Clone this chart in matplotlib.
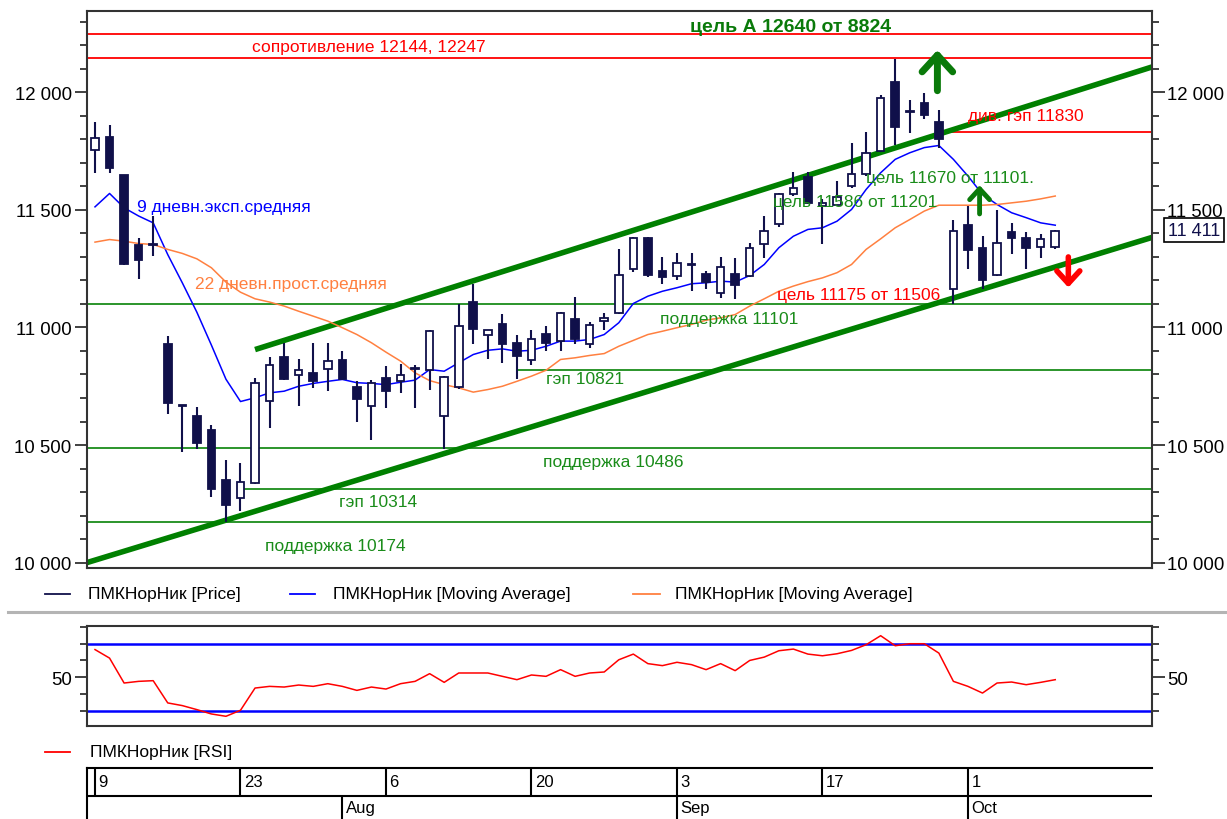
import matplotlib
matplotlib.use("Agg")
import matplotlib.pyplot as plt
from matplotlib.lines import Line2D
from matplotlib.ticker import MultipleLocator, FuncFormatter, FixedLocator

plt.rcParams['font.family'] = ['Liberation Sans', 'DejaVu Sans']

# --- data, one entry per trading day, 9 Jul .. 9 Oct 2012
opens = [11754, 11810, 11647, 11350, 11350, 10931, 10665, 10623, 10563, 10350,
         10274, 10339, 10686, 10874, 10796, 10805, 10825, 10860, 10748, 10665,
         10786, 10774, 10828, 10821, 10623, 10746, 11108, 10966, 11013, 10932,
         10861, 10974, 10942, 11034, 10928, 11027, 11062, 11247, 11382, 11242,
         11218, 11270, 11228, 11148, 11228, 11218, 11356, 11442, 11566, 11641,
         11516, 11523, 11601, 11651, 11750, 12044, 11922, 11956, 11873, 11165,
         11434, 11339, 11225, 11405, 11382, 11343, 11343]
highs = [11873, 11861, 11650, 11382, 11476, 10963, 10668, 10662, 10587, 10438,
         10424, 10786, 10875, 10932, 10867, 10932, 10932, 10902, 10771, 10776,
         10835, 10845, 10842, 10991, 10795, 11098, 11187, 10990, 11058, 10970,
         10991, 11005, 11065, 11131, 11022, 11062, 11332, 11385, 11385, 11301,
         11315, 11315, 11239, 11301, 11297, 11360, 11476, 11570, 11661, 11661,
         11545, 11622, 11786, 11831, 11990, 12143, 11967, 11996, 11927, 11455,
         11516, 11388, 11499, 11445, 11405, 11396, 11414]
lows = [11658, 11658, 11265, 11207, 11303, 10633, 10471, 10481, 10278, 10171,
        10221, 10335, 10573, 10778, 10668, 10743, 10729, 10775, 10597, 10523,
        10658, 10722, 10658, 10736, 10481, 10740, 10928, 10864, 10847, 10781,
        10840, 10899, 10899, 10928, 10914, 10988, 11058, 11235, 11214, 11183,
        11204, 11154, 11162, 11126, 11119, 11215, 11297, 11428, 11560, 11525,
        11357, 11520, 11595, 11645, 11745, 11774, 11825, 11885, 11765, 11098,
        11250, 11165, 11220, 11311, 11250, 11297, 11332]
closes = [11807, 11679, 11271, 11289, 11355, 10677, 10665, 10509, 10315, 10243,
          10342, 10762, 10842, 10782, 10821, 10771, 10857, 10779, 10694, 10765,
          10729, 10797, 10822, 10984, 10790, 11005, 10994, 10988, 10928, 10878,
          10952, 10935, 11062, 10949, 11010, 11041, 11225, 11382, 11225, 11216,
          11275, 11266, 11194, 11257, 11179, 11336, 11410, 11566, 11594, 11530,
          11528, 11556, 11654, 11743, 11977, 11854, 11918, 11902, 11800, 11410,
          11328, 11200, 11360, 11379, 11339, 11377, 11411]

ema9 = [11513, 11570, 11509, 11474, 11445, 11310, 11190, 11065, 10925, 10780,
        10685, 10701, 10722, 10729, 10750, 10762, 10771, 10779, 10765, 10762,
        10757, 10767, 10776, 10821, 10814, 10850, 10885, 10903, 10909, 10899,
        10903, 10920, 10942, 10942, 10949, 10970, 11020, 11102, 11133, 11154,
        11169, 11186, 11190, 11197, 11193, 11221, 11268, 11339, 11388, 11417,
        11424, 11452, 11502, 11587, 11658, 11715, 11743, 11765, 11774, 11715,
        11644, 11566, 11523, 11488, 11467, 11445, 11435]
sma22 = [11363, 11374, 11367, 11357, 11353, 11332, 11315, 11292, 11254, 11193,
         11150, 11122, 11108, 11091, 11069, 11048, 11027, 10999, 10970, 10935,
         10895, 10857, 10807, 10774, 10757, 10743, 10725, 10736, 10750, 10771,
         10793, 10818, 10864, 10871, 10881, 10889, 10920, 10945, 10970, 10984,
         10999, 11013, 11031, 11041, 11055, 11091, 11122, 11154, 11176, 11195,
         11211, 11233, 11268, 11332, 11377, 11424, 11459, 11495, 11520, 11520,
         11520, 11520, 11523, 11530, 11537, 11547, 11559]
rsi = [66.5, 61.4, 46.5, 47.5, 47.9, 34.6, 33.0, 30.6, 28.0, 26.6,
       30.2, 43.5, 44.5, 44.1, 45.3, 44.5, 46.1, 44.5, 42.1, 44.1,
       42.9, 46.1, 47.5, 52.1, 46.9, 52.5, 52.5, 52.5, 50.5, 48.5,
       51.3, 50.5, 54.5, 50.5, 52.5, 53.1, 60.4, 63.8, 58.1, 56.9,
       58.9, 57.5, 54.5, 58.1, 53.9, 60.0, 62.0, 65.8, 66.8, 63.8,
       62.8, 64.0, 66.0, 69.4, 74.8, 68.8, 70.0, 70.0, 64.4, 47.5,
       44.5, 40.5, 46.5, 47.1, 45.5, 46.9, 48.5]

day_ticks = [0, 10, 20, 30, 40, 50, 60]
day_labels = ['9', '23', '6', '20', '3', '17', '1']
month_ticks = [17, 40, 60]
month_labels = ['Aug', 'Sep', 'Oct']

support = [11101, 10486, 10174]
gaps = [(10821, 29), (10314, 10)]
resistance = [12144, 12247]
div_gap = (11830, 58)

NAVY = '#10104a'
GREEN = '#1a8c1a'
DKGREEN = '#0a7a0a'
RED = '#ff0000'
ORANGE = '#ff8040'

W, H = 1227, 820
fig = plt.figure(figsize=(W / 100, H / 100), dpi=100)
XL = (-0.55, 72.65)


def box(l, t, r, b):
    return [l / W, 1 - b / H, (r - l) / W, (b - t) / H]


def style_axis(ax):
    for s in ax.spines.values():
        s.set_color('#333333')
        s.set_linewidth(1.5)
    ax.tick_params(which='both', direction='out', left=True, right=True,
                   labelleft=True, labelright=True, bottom=False, labelbottom=False,
                   color='#333333', width=1.3, labelsize=13.4, pad=2)
    ax.tick_params(which='major', length=9)
    ax.tick_params(which='minor', length=5)
    ax.set_xlim(*XL)


# ---------------- price panel
ax = fig.add_axes(box(87, 12, 1152, 569))
style_axis(ax)
ax.set_ylim(9977, 12346)
ax.yaxis.set_major_locator(MultipleLocator(500))
ax.yaxis.set_minor_locator(MultipleLocator(100))
ax.yaxis.set_major_formatter(FuncFormatter(lambda v, p: '{:,.0f}'.format(v).replace(',', ' ')))

for lvl in support:
    ax.axhline(lvl, color=GREEN, lw=1.3, zorder=1)
for lvl, start in gaps:
    ax.hlines(lvl, start, XL[1], color=GREEN, lw=1.3, zorder=1)
for lvl in resistance:
    ax.axhline(lvl, color=RED, lw=1.3, zorder=1)
ax.hlines(div_gap[0], div_gap[1], XL[1], color=RED, lw=1.3, zorder=1)

# channel
ax.plot([11.0, 72.65], [10906, 12108], color='#008000', lw=4, zorder=2, solid_capstyle='butt')
ax.plot([-0.55, 72.65], [10000, 11383], color='#008000', lw=4, zorder=2, solid_capstyle='butt')

ax.plot(range(len(ema9)), ema9, color='#0000ff', lw=1.1, zorder=3)
ax.plot(range(len(sma22)), sma22, color=ORANGE, lw=1.1, zorder=3)

# candles
idx = list(range(len(opens)))
ax.vlines(idx, lows, highs, color=NAVY, lw=1.5, zorder=4)
for i in idx:
    o, c = opens[i], closes[i]
    lo = min(o, c)
    hgt = max(abs(c - o), 4)
    fc = 'white' if c > o else NAVY
    ax.bar(i, hgt, bottom=lo, width=0.52, color=fc, edgecolor=NAVY, lw=1.3, zorder=5)

txt = dict(fontsize=12.5, va='center', ha='left', zorder=6)
ax.text(10.8, 12197, 'сопротивление 12144, 12247', color=RED, **txt)
ax.text(40.9, 12282, 'цель А 12640 от 8824', color=DKGREEN, fontsize=14,
        fontweight='bold', va='center', ha='left', zorder=6)
ax.text(60.0, 11900, 'див. гэп 11830', color=RED, **txt)
ax.text(53.0, 11639, 'цель 11670 от 11101.', color=GREEN, **txt)
ax.text(46.6, 11535, 'цель 11586 от 11201', color=GREEN, **txt)
ax.text(46.9, 11141, 'цель 11175 от 11506', color=RED, **txt)
ax.text(38.8, 11038, 'поддержка 11101', color=GREEN, **txt)
ax.text(31.0, 10785, 'гэп 10821', color=GREEN, **txt)
ax.text(30.8, 10428, 'поддержка 10486', color=GREEN, **txt)
ax.text(16.8, 10258, 'гэп 10314', color=GREEN, **txt)
ax.text(11.7, 10071, 'поддержка 10174', color=GREEN, **txt)
ax.text(2.9, 11516, '9 дневн.эксп.средняя', color='#0000ff', **txt)
ax.text(6.9, 11185, '22 дневн.прост.средняя', color=ORANGE, **txt)

# arrows
ax.annotate('', xy=(57.9, 12180), xytext=(57.9, 12007),
            arrowprops=dict(arrowstyle='->, head_length=0.6, head_width=0.55',
                            lw=5, color=DKGREEN, mutation_scale=20,
                            shrinkA=0, shrinkB=0), zorder=7)
ax.annotate('', xy=(60.8, 11605), xytext=(60.8, 11483),
            arrowprops=dict(arrowstyle='->, head_length=0.6, head_width=0.55',
                            lw=3.5, color=DKGREEN, mutation_scale=13,
                            shrinkA=0, shrinkB=0), zorder=7)
ax.annotate('', xy=(66.9, 11170), xytext=(66.9, 11300),
            arrowprops=dict(arrowstyle='->, head_length=0.6, head_width=0.55',
                            lw=4, color=RED, mutation_scale=15,
                            shrinkA=0, shrinkB=0), zorder=7)

fig.text(1168 / W, 1 - 231 / H, '11 411', color=NAVY, fontsize=13, va='center', ha='left',
         bbox=dict(boxstyle='square,pad=0.2', fc='white', ec='black', lw=1.2))

# legend row for price panel
ly = 1 - 595 / H
for x0, x1, col, label, tx in [(45, 70, NAVY, 'ПМКНорНик [Price]', 88),
                               (290, 315, '#0000ff', 'ПМКНорНик [Moving Average]', 333),
                               (633, 660, ORANGE, 'ПМКНорНик [Moving Average]', 675)]:
    fig.add_artist(Line2D([x0 / W, x1 / W], [ly, ly], color=col, lw=1.3))
    fig.text(tx / W, ly, label, fontsize=12.5, va='center', ha='left')

fig.add_artist(Line2D([8 / W, 1], [1 - 613 / H, 1 - 613 / H], color='#b4b4b4', lw=2.2))

# ---------------- RSI panel
ar = fig.add_axes(box(87, 627, 1152, 727))
style_axis(ar)
ar.set_ylim(20.8, 80.6)
ar.yaxis.set_major_locator(FixedLocator([50]))
ar.yaxis.set_minor_locator(FixedLocator([30, 40, 60, 70, 80]))
ar.yaxis.set_major_formatter(FuncFormatter(lambda v, p: '%d' % v))
ar.axhline(70, color='#0000ff', lw=1.8)
ar.axhline(30, color='#0000ff', lw=1.8)
ar.plot(range(len(rsi)), rsi, color=RED, lw=1.1)

ry = 1 - 753 / H
fig.add_artist(Line2D([45 / W, 70 / W], [ry, ry], color=RED, lw=1.3))
fig.text(90 / W, ry, 'ПМКНорНик [RSI]', fontsize=12.5, va='center', ha='left')

# ---------------- date panel
ad = fig.add_axes(box(87, 769, 1152, 820))
ad.set_xlim(*XL)
ad.set_ylim(0, 51)
ad.set_xticks([])
ad.set_yticks([])
for k in ['right', 'bottom']:
    ad.spines[k].set_visible(False)
for k in ['left', 'top']:
    ad.spines[k].set_color('black')
    ad.spines[k].set_linewidth(1.5)
ad.axhline(23, color='black', lw=1.5)
ad.vlines(day_ticks, 23, 51, color='black', lw=1.5)
ad.vlines(month_ticks, 0, 23, color='black', lw=1.5)
for t, lab in zip(day_ticks, day_labels):
    ad.text(t + 0.25, 37, lab, fontsize=12, va='center', ha='left')
for t, lab in zip(month_ticks, month_labels):
    ad.text(t + 0.25, 11, lab, fontsize=12, va='center', ha='left')

fig.savefig('out.png', dpi=100)
